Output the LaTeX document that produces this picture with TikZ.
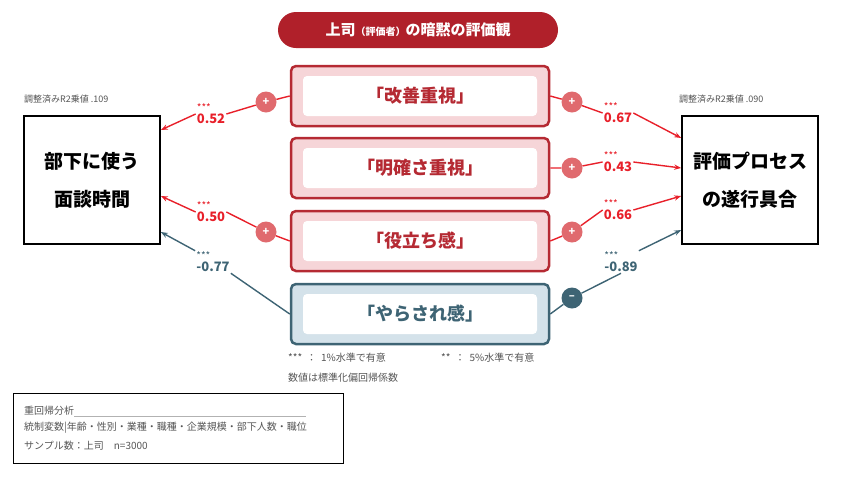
\documentclass[tikz,border=0pt]{standalone}
\usepackage{fontspec}
\setmainfont{Noto Sans CJK JP}
\usetikzlibrary{arrows.meta}
\definecolor{dred}{HTML}{B0202A}
\definecolor{bred}{HTML}{B52A33}
\definecolor{pink}{HTML}{F6D5D8}
\definecolor{ared}{HTML}{E8202A}
\definecolor{cred}{HTML}{E06A6E}
\definecolor{bgray}{HTML}{3E6474}
\definecolor{lblue}{HTML}{D4E2EA}
\definecolor{tgray}{HTML}{555555}
\newcommand{\stars}{{\fontsize{10}{10}\selectfont\mdseries ***}}
\begin{document}
\begin{tikzpicture}[x=1pt,y=-1pt,
 factor/.style={draw=bred,line width=2.5pt,fill=pink,rounded corners=5pt,minimum width=258pt,minimum height=60pt},
 inner/.style={fill=white,rounded corners=4pt,minimum width=234pt,minimum height=40pt,font=\fontsize{18}{18}\selectfont\bfseries,text=bred},
 outbox/.style={draw=black,line width=1.6pt,minimum width=136pt,minimum height=128pt,align=center,font=\fontsize{19}{38}\selectfont\bfseries},
 sgn/.style={circle,fill=cred,text=white,minimum size=21pt,inner sep=0pt,font=\fontsize{11}{11}\selectfont\bfseries},
 lab/.style={align=left,inner sep=1pt,font=\fontsize{13}{12}\selectfont\bfseries,text=ared},
 rl/.style={draw=ared,line width=1.4pt},
 bl/.style={draw=bgray,line width=1.4pt},
 note/.style={anchor=west,text=tgray,font=\fontsize{10}{10}\selectfont,inner sep=0pt}]
\useasboundingbox (0,0) rectangle (846,480);
\node[fill=dred,rounded corners=18pt,minimum width=280pt,minimum height=36pt,text=white,font=\fontsize{15}{15}\selectfont\bfseries] (title) at (418,30) {上司{\fontsize{10}{10}\selectfont（評価者）}の暗黙の評価観};
\foreach \n/\y/\t in {f1/96/「改善重視」,f2/168/「明確さ重視」,f3/241/「役立ち感」}{
 \node[factor] (\n) at (420,\y) {};
 \node[inner] at (420,\y) {\t};}
\node[factor,draw=bgray,fill=lblue] (f4) at (420,314) {};
\node[inner,text=bgray] at (420,314) {「やらされ感」};
\node[outbox] (L) at (92,180) {部下に使う\\面談時間};
\node[outbox] (R) at (750,180) {評価プロセス\\の遂行具合};
\node[anchor=west,font=\fontsize{9}{9}\selectfont,text=tgray,inner sep=0pt] (lr) at (24,99) {調整済みR2乗値 .109};
\node[anchor=west,font=\fontsize{9}{9}\selectfont,text=tgray,inner sep=0pt] (rr) at (679,99) {調整済みR2乗値 .090};
% left
\node[sgn] (c1) at (266,102) {+};
\node[sgn] (c3) at (266,232) {+};
\node[lab] (l1) at (211,114) {\stars\\0.52};
\node[lab] (l3) at (211,212) {\stars\\0.50};
\node[lab,text=bgray] (l4) at (213,262) {\stars\\-0.77};
\draw[rl] (f1.west|-0,96) -- (c1) -- (l1.east);
\draw[rl,-{Stealth[length=7pt]}] (l1.west) -- (L.east|-0,130);
\draw[rl] (f3.west) -- (c3) -- (l3.east);
\draw[rl,-{Stealth[length=7pt]}] (l3.west) -- (L.east|-0,196);
\draw[bl] (f4.west) -- (l4.south east);
\draw[bl,-{Stealth[length=7pt,open]}] (l4.north west) -- (L.east|-0,232);
% right
\node[sgn] (d1) at (572,102) {+};
\node[sgn] (d2) at (572,168) {+};
\node[sgn] (d3) at (572,232) {+};
\node[sgn,fill=bgray] (d4) at (572,298) {\textbf{--}};
\node[lab] (r1) at (618,113) {\stars\\0.67};
\node[lab] (r2) at (618,162) {\stars\\0.43};
\node[lab] (r3) at (618,210) {\stars\\0.66};
\node[lab,text=bgray] (r4) at (621,262) {\stars\\-0.89};
\draw[rl] (f1.east|-0,96) -- (d1) -- (r1.west);
\draw[rl,-{Stealth[length=7pt]}] (r1.east) -- (R.west|-0,138);
\draw[rl] (f2.east) -- (d2) -- (r2.west);
\draw[rl,-{Stealth[length=7pt]}] (r2.east) -- (R.west|-0,168);
\draw[rl] (f3.east) -- (d3) -- (r3.west);
\draw[rl,-{Stealth[length=7pt]}] (r3.east) -- (R.west|-0,196);
\draw[bl] (f4.east) -- (d4) -- (r4.south);
\draw[bl,-{Stealth[length=7pt,open]}] (r4.north east) -- (R.west|-0,230);
% notes
\node[note] (n1) at (288,358) {***\ \ ：\ \ 1\%水準で有意};
\node[note] (n2) at (441,358) {**\ \ ：\ \ 5\%水準で有意};
\node[note] (n3) at (288,378) {数値は標準化偏回帰係数};
\node[draw=black,line width=0.6pt,minimum width=330pt,minimum height=70pt] (box) at (178,428) {};
\node[note] (b1) at (24,411) {重回帰分析};
\draw[gray!60,line width=0.4pt] (b1.south east) -- ++(232,0);
\node[note] (b2) at (24,428) {統制変数|年齢・性別・業種・職種・企業規模・部下人数・職位};
\node[note] (b3) at (24,446) {サンプル数：上司\quad n=3000};
\end{tikzpicture}
\end{document}
